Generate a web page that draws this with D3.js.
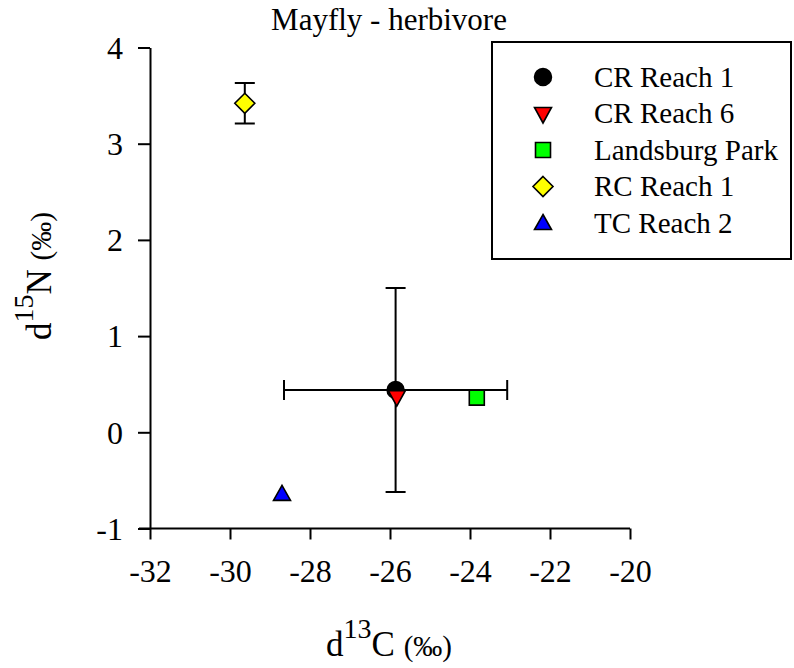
<!DOCTYPE html>
<html>
<head>
<meta charset="utf-8">
<script src="https://cdn.jsdelivr.net/npm/d3@7.9.0/dist/d3.min.js"></script>
<style>
  body { margin: 0; background: #fff; }
  svg text { font-family: "Liberation Serif", "Times New Roman", serif; fill: #000; }
</style>
</head>
<body>
<svg id="chart" width="794" height="668"></svg>
<script>
// sites, their mean isotope values and standard errors
const sites = ['CR Reach 1', 'CR Reach 6', 'Landsburg Park', 'RC Reach 1', 'TC Reach 2'];
const carbon = [-25.86, -25.83, -23.83, -29.63, -28.7];
const nitrogen = [0.44, 0.37, 0.36, 3.42, -0.64];
const carbonErr = [2.79, 0, 0, 0, 0];
const nitrogenErr = [1.06, 0, 0, 0.21, 0];
const fills = ['#000000', '#ff0000', '#00ff00', '#ffff00', '#0000ff'];
const shapes = ['circle', 'down', 'square', 'diamond', 'up'];
const xTicks = [-32, -30, -28, -26, -24, -22, -20];
const yTicks = [-1, 0, 1, 2, 3, 4];

const svg = d3.select('#chart');

let x = d3.scaleLinear().domain([-32, -20]).range([150, 630]);
let y = d3.scaleLinear().domain([-1, 4]).range([528.5, 47.5]);

function markerPath(shape) {
    if (shape === 'circle') return d3.symbol(d3.symbolCircle, 225)();
    if (shape === 'square') return 'M-7.5,-7.5H7.5V7.5H-7.5Z';
    if (shape === 'diamond') return 'M0,-10L10,0L0,10L-10,0Z';
    if (shape === 'up') return 'M0,-8.5L8.5,6.5H-8.5Z';
    return 'M0,9.5L8.5,-6H-8.5Z';
}

// axes
let xAxis = svg.append('g')
    .attr('transform', `translate(0,${y(-1)})`)
    .call(d3.axisBottom(x).tickValues(xTicks).tickSize(11).tickSizeOuter(0).tickPadding(20).tickFormat(d => String(d)));
let yAxis = svg.append('g')
    .attr('transform', `translate(${x(-32)},0)`)
    .call(d3.axisLeft(y).tickValues(yTicks).tickSize(12).tickSizeOuter(0).tickPadding(15).tickFormat(d => String(d)));

[xAxis, yAxis].forEach(g => {
    g.attr('font-family', null).attr('font-size', null);
    g.select('.domain').attr('stroke-width', 2);
    g.selectAll('.tick line').attr('stroke-width', 2);
    g.selectAll('.tick text').attr('font-size', 32);
});
xAxis.selectAll('.tick text').attr('dy', '0.71em');
yAxis.selectAll('.tick text').attr('dy', '0.34em');
// let the x axis run a bit left of the y axis, as in a crossing
xAxis.select('.domain').attr('d', `M${x(-32) - 11},0H${x(-20)}`);

// error bars
const cap = 10;
sites.forEach((s, i) => {
    let cx = x(carbon[i]), cy = y(nitrogen[i]);
    if (carbonErr[i] > 0) {
        let x0 = x(carbon[i] - carbonErr[i]), x1 = x(carbon[i] + carbonErr[i]);
        svg.append('path')
            .attr('d', `M${x0},${cy}H${x1}M${x0},${cy - cap}V${cy + cap}M${x1},${cy - cap}V${cy + cap}`)
            .attr('stroke', '#000').attr('stroke-width', 2).attr('fill', 'none');
    }
    if (nitrogenErr[i] > 0) {
        let y0 = y(nitrogen[i] - nitrogenErr[i]), y1 = y(nitrogen[i] + nitrogenErr[i]);
        svg.append('path')
            .attr('d', `M${cx},${y0}V${y1}M${cx - cap},${y0}H${cx + cap}M${cx - cap},${y1}H${cx + cap}`)
            .attr('stroke', '#000').attr('stroke-width', 2).attr('fill', 'none');
    }
});

// points
svg.append('g').selectAll('path')
    .data(sites)
    .join('path')
    .attr('d', (d, i) => markerPath(shapes[i]))
    .attr('transform', (d, i) => `translate(${x(carbon[i])},${y(nitrogen[i])})`)
    .attr('fill', (d, i) => fills[i])
    .attr('stroke', '#000')
    .attr('stroke-width', 1.6);

// title
svg.append('text')
    .attr('x', 389).attr('y', 30)
    .attr('text-anchor', 'middle')
    .attr('font-size', 31)
    .text('Mayfly - herbivore');

// axis titles
function axisTitle(g, letter, iso) {
    g.append('tspan').attr('font-size', 35).text('d');
    g.append('tspan').attr('font-size', 28).attr('dy', -18).text(iso);
    g.append('tspan').attr('font-size', 35).attr('dy', 18).text(letter + ' ');
    g.append('tspan').attr('font-size', 29).text('(‰)');
}
axisTitle(svg.append('text')
    .attr('x', 389).attr('y', 656)
    .attr('text-anchor', 'middle'), 'C', '13');
axisTitle(svg.append('text')
    .attr('transform', 'translate(51,276) rotate(-90)')
    .attr('text-anchor', 'middle'), 'N', '15');

// legend
let legend = svg.append('g');
legend.append('rect')
    .attr('x', 492).attr('y', 42).attr('width', 299).attr('height', 217)
    .attr('fill', '#fff').attr('stroke', '#000').attr('stroke-width', 2);

sites.forEach((s, i) => {
    let ly = 77 + i * 36.5;
    legend.append('path')
        .attr('d', markerPath(shapes[i]))
        .attr('transform', `translate(543,${ly})`)
        .attr('fill', fills[i]).attr('stroke', '#000').attr('stroke-width', 1.6);
    legend.append('text')
        .attr('x', 594).attr('y', ly)
        .attr('dy', '0.33em')
        .attr('font-size', 29)
        .text(s);
});
</script>
</body>
</html>
